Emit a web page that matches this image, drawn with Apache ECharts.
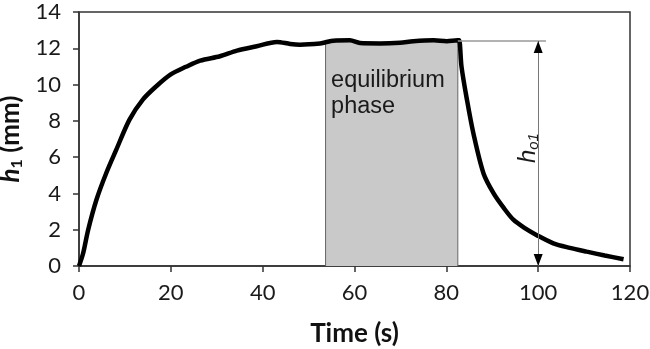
<!DOCTYPE html>
<html>
<head>
<meta charset="utf-8">
<script src="https://cdn.jsdelivr.net/npm/echarts@6/dist/echarts.min.js"></script>
<style>html,body{margin:0;padding:0;background:#fff}#c{width:650px;height:349px}</style>
</head>
<body>
<div id="c"></div>
<script>
// Time (s)
var time = [0, 0.9, 2, 3.8, 5.9, 8.1, 11, 13.9, 16.8, 19.9, 23.3, 26.4, 30.7, 34.4, 38.7, 43.1, 46, 48.1, 52.5, 53.7, 55.4, 59, 61.2, 65.6, 69.9, 72.8, 77.2, 80.1, 82.5, 82.8, 83.3, 84.5, 85.9, 88.1, 90.3, 92.5, 94.6, 97, 99.7, 103.3, 106.9, 110.6, 114.5, 118.6];
// h1 (mm)
var h1 = [0, 0.7, 2.0, 3.65, 5.1, 6.4, 8.07, 9.17, 9.9, 10.55, 10.98, 11.32, 11.56, 11.87, 12.11, 12.35, 12.24, 12.2, 12.26, 12.33, 12.42, 12.44, 12.29, 12.27, 12.31, 12.39, 12.44, 12.39, 12.44, 12.44, 11.0, 9.15, 7.3, 5.1, 4.0, 3.2, 2.55, 2.1, 1.7, 1.25, 1.0, 0.79, 0.58, 0.37];
var shadeStart = 53.7, shadeEnd = 82.5;
var hRef = 12.4, hRefEnd = 101.7, arrowX = 100;
var xTicks = [0, 20, 40, 60, 80, 100, 120];
var yTicks = [0, 2, 4, 6, 8, 10, 12, 14];
var shadeLabel = 'equilibrium\nphase';
var refLabelPos = [97.8, 6.5];

var curve = time.map(function (t, i) { return [t, h1[i]]; });
var shade = [[shadeStart, 0]];
curve.forEach(function (p) { if (p[0] >= shadeStart && p[0] <= shadeEnd) shade.push(p); });
shade.push([shadeEnd, 0]);

var chart = echarts.init(document.getElementById('c'), null, {renderer: 'canvas'});
var axisCol = '#333';
chart.setOption({
  animation: false,
  grid: {left: 79, right: 20, top: 12, bottom: 83, show: true, borderColor: axisCol, borderWidth: 1.5,
    backgroundColor: 'transparent', containLabel: false, outerBoundsMode: 'none'},
  xAxis: {
    type: 'value', min: 0, max: 120, interval: 20,
    name: 'Time (s)', nameLocation: 'middle', nameGap: 55,
    nameTextStyle: {fontFamily: 'Lato', fontWeight: 'bold', fontSize: 26, color: '#111'},
    axisLine: {show: true, lineStyle: {color: axisCol, width: 1.5}},
    axisTick: {show: true, length: 6, inside: false, lineStyle: {color: axisCol, width: 1.5}},
    axisLabel: {margin: 16, fontFamily: 'Lato', fontSize: 22, color: '#1a1a1a',
      formatter: function (v) { return xTicks.indexOf(v) >= 0 ? String(v) : ''; }},
    splitLine: {show: false}
  },
  yAxis: {
    type: 'value', min: 0, max: 14, interval: 2,
    name: '{i|h}{s|1} (mm)', nameLocation: 'middle', nameGap: 41, nameRotate: 90,
    nameTextStyle: {fontFamily: 'Lato', fontWeight: 'bold', fontSize: 26, color: '#111',
      rich: {
        i: {fontFamily: 'Lato', fontStyle: 'italic', fontWeight: 'bold', fontSize: 26, color: '#111'},
        s: {fontFamily: 'Lato', fontWeight: 'bold', fontSize: 16, color: '#111', verticalAlign: 'bottom', padding: [12, 0, 0, 0]}
      }},
    axisLine: {show: true, lineStyle: {color: axisCol, width: 1.5}},
    axisTick: {show: true, length: 6, lineStyle: {color: axisCol, width: 1.5}},
    axisLabel: {margin: 18, fontFamily: 'Lato', fontSize: 22, color: '#1a1a1a',
      formatter: function (v) { return yTicks.indexOf(v) >= 0 ? String(v) : ''; }},
    splitLine: {show: false}
  },
  series: [
    {
      type: 'line', data: shade, symbol: 'none', z: 1,
      lineStyle: {color: '#666', width: 1},
      areaStyle: {color: '#c9c9c9', opacity: 1},
      markPoint: {
        symbol: 'circle', symbolSize: 0, silent: true,
        data: [{coord: [shadeStart + 1.2, 9.48]}],
        label: {show: true, position: 'right', distance: 0, formatter: shadeLabel,
          fontFamily: 'Liberation Sans', fontSize: 23.5, lineHeight: 26, color: '#1a1a1a', align: 'left'}
      }
    },
    {
      type: 'line', data: curve, symbol: 'none', z: 3, smooth: 0.3,
      lineStyle: {color: '#000', width: 4.5}
    },
    {
      type: 'line', data: [], z: 2,
      markLine: {
        silent: true, animation: false, symbol: 'none',
        label: {show: false},
        data: [
          [{coord: [shadeEnd, hRef], lineStyle: {color: '#999', width: 1.5, type: 'solid'}},
           {coord: [hRefEnd, hRef]}],
          [{coord: [arrowX, 0], lineStyle: {color: '#777', width: 1, type: 'solid'}},
           {coord: [arrowX, hRef]}]
        ]
      },
      markPoint: {
        silent: true, animation: false, symbol: 'triangle', symbolSize: [9, 12],
        itemStyle: {color: '#000'}, label: {show: false},
        data: [
          {coord: [arrowX, hRef], symbolOffset: [0, '50%']},
          {coord: [arrowX, 0], symbolRotate: 180, symbolOffset: [0, '-50%']},
          {coord: refLabelPos, symbolSize: 0,
            label: {show: true, position: 'inside', rotate: 90,
              formatter: '{i|h}{s|o1}',
              rich: {i: {fontFamily: 'Liberation Sans', fontStyle: 'italic', fontSize: 24, color: '#1a1a1a'},
                     s: {fontFamily: 'Liberation Sans', fontStyle: 'italic', fontSize: 15, color: '#1a1a1a', verticalAlign: 'bottom', padding: [11, 0, 0, 0]}}}}
        ]
      }
    }
  ]
});
</script>
</body>
</html>
